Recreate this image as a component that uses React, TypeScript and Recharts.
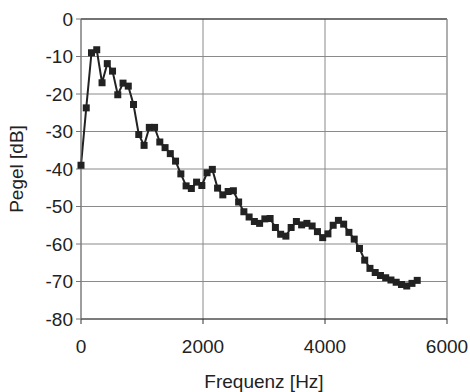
import { LineChart, Line, XAxis, YAxis, CartesianGrid, ReferenceLine, Label } from 'recharts'

// Frequenz der FFT-Bins [Hz]
const frequencies = [
  0, 86, 172, 258, 345, 431, 517, 603, 689, 775,
  861, 947, 1034, 1120, 1206, 1292, 1378, 1464, 1550, 1637,
  1723, 1809, 1895, 1981, 2067, 2153, 2239, 2325, 2412, 2498,
  2584, 2670, 2756, 2842, 2928, 3014, 3100, 3187, 3273, 3359,
  3445, 3531, 3617, 3703, 3789, 3876, 3962, 4048, 4134, 4220,
  4306, 4392, 4479, 4565, 4651, 4737, 4823, 4909, 4995, 5081,
  5167, 5254, 5340, 5426, 5512,
]

// Pegel [dB]
const levels = [
  -39, -23.7, -9, -8.2, -17, -11.9, -13.9, -20.2, -17.1, -17.9,
  -22.8, -30.8, -33.7, -28.9, -28.9, -32.8, -34.3, -35.9, -37.9, -41.3,
  -44.5, -45.2, -43.5, -44.4, -41, -40.1, -45.1, -46.9, -46, -45.8,
  -48.8, -51.4, -52.8, -54, -54.5, -53.3, -53.2, -55.6, -57.4, -57.9,
  -55.6, -54, -54.9, -54.5, -55.2, -56.7, -58.3, -57.3, -55, -53.7,
  -54.7, -56.9, -58.7, -61.2, -64.3, -66.5, -67.6, -68.4, -69, -69.6,
  -70.2, -70.8, -71.2, -70.5, -69.7,
]

const xTicks = [0, 2000, 4000, 6000]
const yTicks = [0, -10, -20, -30, -40, -50, -60, -70, -80]

const data = frequencies.map((f, i) => ({ f, db: levels[i] }))

const font = 'Liberation Sans, Arial, sans-serif'

const SquareDot = (props: any) => {
  const { cx, cy, index } = props
  if (cx == null || cy == null) return null
  return <rect key={index} x={cx - 3.5} y={cy - 3.5} width={7} height={7} fill="#222" />
}

export default function App() {
  return (
    <div style={{ position: 'absolute', left: 0, top: 0, background: '#fff' }}>
      <LineChart
        width={470}
        height={392}
        data={data}
        margin={{ top: 19, right: 23, bottom: 0, left: 0 }}
        style={{ fontFamily: font }}
      >
        <CartesianGrid stroke="#8a8a8a" />
        <XAxis
          dataKey="f"
          type="number"
          domain={[0, 6000]}
          ticks={xTicks}
          height={73}
          stroke="#333"
          tickSize={5}
          tickMargin={16}
          tick={{ fill: '#222', fontSize: 19 }}
        >
          <Label
            content={() => (
              <text x={264} y={388} textAnchor="middle" fill="#222" fontSize={19} fontFamily={font}>
                Frequenz [Hz]
              </text>
            )}
          />
        </XAxis>
        <YAxis
          type="number"
          domain={[-80, 0]}
          ticks={yTicks}
          width={81}
          stroke="#777"
          tickSize={5}
          tickMargin={3}
          tick={{ fill: '#222', fontSize: 19 }}
        >
          <Label
            content={() => (
              <text
                x={23}
                y={169}
                transform="rotate(-90 23 169)"
                textAnchor="middle"
                fill="#222"
                fontSize={19}
                fontFamily={font}
              >
                Pegel [dB]
              </text>
            )}
          />
        </YAxis>
        <ReferenceLine y={0} stroke="#222" strokeWidth={1.2} />
        <ReferenceLine x={6000} stroke="#999" />
        <Line
          dataKey="db"
          stroke="#222"
          strokeWidth={2}
          dot={SquareDot}
          activeDot={false}
          isAnimationActive={false}
        />
      </LineChart>
    </div>
  )
}
